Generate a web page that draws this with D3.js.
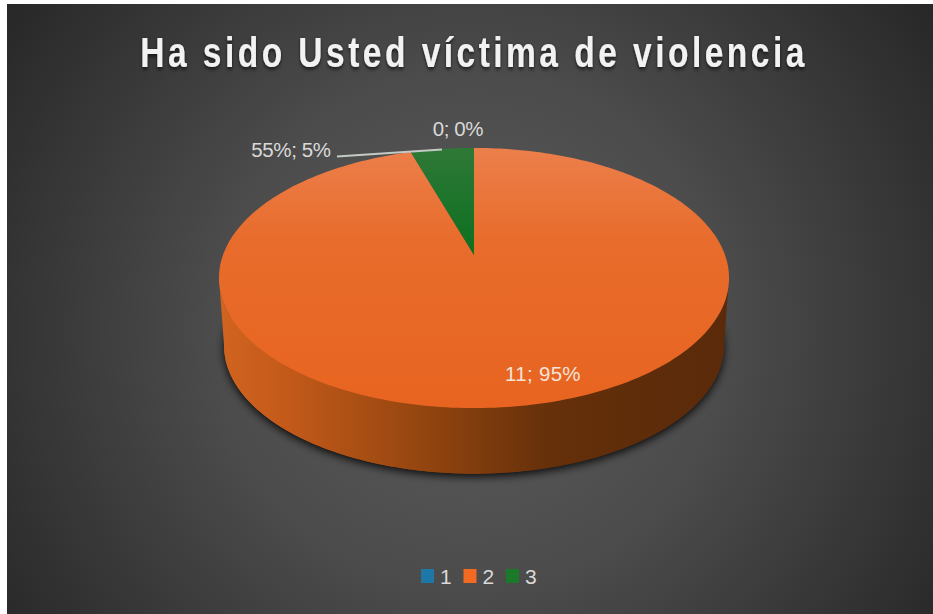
<!DOCTYPE html>
<html>
<head>
<meta charset="utf-8">
<script src="https://cdnjs.cloudflare.com/ajax/libs/d3/7.8.5/d3.min.js"></script>
<style>
  html, body { margin: 0; padding: 0; background: #fff; }
  svg { display: block; }
</style>
</head>
<body>
<svg id="chart" width="933" height="614"></svg>
<script>
const titleText = 'Ha sido Usted víctima de violencia'
const categories = ['1', '2', '3']
const values = [0, 11, 0.55]
const valueLabels = ['0; 0%', '11; 95%', '55%; 5%']
const colors = ['#1f77a8', '#f26a21', '#1a7a2a']

const svg = d3.select('#chart')
const defs = svg.append('defs')

const bg = defs.append('radialGradient').attr('id', 'bg')
  .attr('gradientUnits', 'userSpaceOnUse')
  .attr('cx', 470).attr('cy', 330).attr('r', 560)
bg.append('stop').attr('offset', '0%').attr('stop-color', '#5c5c5c')
bg.append('stop').attr('offset', '45%').attr('stop-color', '#4c4c4c')
bg.append('stop').attr('offset', '100%').attr('stop-color', '#282828')

const wall = defs.append('linearGradient').attr('id', 'wall')
  .attr('gradientUnits', 'userSpaceOnUse')
  .attr('x1', 224).attr('x2', 724).attr('y1', 0).attr('y2', 0)
wall.append('stop').attr('offset', '0%').attr('stop-color', '#d0631f')
wall.append('stop').attr('offset', '12%').attr('stop-color', '#c45a1a')
wall.append('stop').attr('offset', '40%').attr('stop-color', '#93450f')
wall.append('stop').attr('offset', '65%').attr('stop-color', '#65300a')
wall.append('stop').attr('offset', '100%').attr('stop-color', '#5a2a0a')

const topFill = defs.append('linearGradient').attr('id', 'topFill')
  .attr('x1', 0).attr('x2', 0).attr('y1', 0).attr('y2', 1)
topFill.append('stop').attr('offset', '0%').attr('stop-color', '#ec7f4b')
topFill.append('stop').attr('offset', '35%').attr('stop-color', '#e86c2c')
topFill.append('stop').attr('offset', '100%').attr('stop-color', '#e86420')

const greenFill = defs.append('linearGradient').attr('id', 'greenFill')
  .attr('x1', 0).attr('x2', 0).attr('y1', 0).attr('y2', 1)
greenFill.append('stop').attr('offset', '0%').attr('stop-color', '#2f7836')
greenFill.append('stop').attr('offset', '100%').attr('stop-color', '#0b7020')

const shadow = defs.append('filter').attr('id', 'shadow')
  .attr('x', '-10%').attr('y', '-10%').attr('width', '120%').attr('height', '125%')
shadow.append('feGaussianBlur').attr('stdDeviation', 4)

const titleShadow = defs.append('filter').attr('id', 'titleShadow')
  .attr('x', '-5%').attr('y', '-20%').attr('width', '110%').attr('height', '150%')
titleShadow.append('feDropShadow').attr('dx', 0).attr('dy', 2).attr('stdDeviation', 2)
  .attr('flood-color', '#000').attr('flood-opacity', 0.7)

svg.append('rect').attr('x', 7).attr('y', 4).attr('width', 926).attr('height', 610).attr('fill', 'url(#bg)')

// title, no narrow font here so squeeze it sideways
svg.append('text')
  .attr('transform', 'translate(474,67) scale(0.8,1)')
  .attr('text-anchor', 'middle')
  .attr('font-family', '"Liberation Sans", sans-serif')
  .attr('font-weight', 'bold')
  .attr('font-size', 42)
  .attr('letter-spacing', 4.3)
  .attr('fill', '#f2f2f2')
  .attr('filter', 'url(#titleShadow)')
  .text(titleText)

// tilted disc: a circle seen in perspective, so the centre sits above the ellipse middle
const persp = 0.177
function project (angle, cx, cy, rx, ry) {
  const u = Math.sin(angle)
  const v = Math.cos(angle)
  const w = 1 + persp * v
  return [cx + rx * u / w, cy - ry * v / w]
}
const topDisc = {cx: 474, cy: 255, rx: 251, ry: 126}
const baseDisc = {cx: 474, cy: 323, rx: 246, ry: 124}
const onDisc = (a, d) => project(a, d.cx, d.cy, d.rx, d.ry)

const line = d3.line()
function arcPoints (a0, a1, d) {
  const n = Math.max(2, Math.ceil(Math.abs(a1 - a0) / 0.02))
  return d3.range(n + 1).map(i => onDisc(a0 + (a1 - a0) * i / n, d))
}

// widest points of the projected disc, the wall runs between them
const sideAngle = Math.acos(-persp)
const frontWall = arcPoints(sideAngle, 2 * Math.PI - sideAngle, topDisc)
  .concat(arcPoints(2 * Math.PI - sideAngle, sideAngle, baseDisc))

const pie = d3.pie().value(d => d).sort(null)
const slices = pie(values)

svg.append('path')
  .attr('d', line(arcPoints(0, 2 * Math.PI, baseDisc)) + 'Z')
  .attr('fill', '#000').attr('opacity', 0.85)
  .attr('filter', 'url(#shadow)')
  .attr('transform', 'translate(0,3)')

svg.append('path')
  .attr('d', line(arcPoints(0, 2 * Math.PI, baseDisc)) + 'Z')
  .attr('fill', 'url(#wall)')
svg.append('path')
  .attr('d', line(frontWall) + 'Z')
  .attr('fill', 'url(#wall)')

svg.selectAll('path.slice')
  .data(slices.filter(d => d.value > 0))
  .enter()
  .append('path')
  .attr('class', 'slice')
  .attr('d', d => {
    const pts = arcPoints(d.startAngle, d.endAngle, topDisc)
    pts.push([topDisc.cx, topDisc.cy])
    return line(pts) + 'Z'
  })
  .attr('fill', d => d.index === 2 ? 'url(#greenFill)' : 'url(#topFill)')

// labels
const labelFont = '"Liberation Sans", Arial, sans-serif'
const labelPos = [
  {x: 458, y: 136, spacing: -0.4, fill: '#d9d9d9'},
  {x: 543, y: 381, spacing: 0.3, fill: '#f4e3d8'},
  {x: 291, y: 157, spacing: -0.4, fill: '#d9d9d9'}
]
svg.selectAll('text.value')
  .data(valueLabels)
  .enter()
  .append('text')
  .attr('class', 'value')
  .attr('x', (d, i) => labelPos[i].x)
  .attr('y', (d, i) => labelPos[i].y)
  .attr('text-anchor', 'middle')
  .attr('font-family', labelFont)
  .attr('font-size', 20.5)
  .attr('letter-spacing', (d, i) => labelPos[i].spacing)
  .attr('fill', (d, i) => labelPos[i].fill)
  .text(d => d)

svg.append('line')
  .attr('x1', 337).attr('y1', 156.5).attr('x2', 442).attr('y2', 149.5)
  .attr('stroke', '#c4cac4').attr('stroke-width', 2)

// legend
const legendX = d3.scalePoint().domain(categories).range([421, 506])
const legend = svg.selectAll('g.legend')
  .data(categories)
  .enter()
  .append('g')
  .attr('class', 'legend')
  .attr('transform', d => 'translate(' + legendX(d) + ',569)')
legend.append('rect')
  .attr('width', 13).attr('height', 14)
  .attr('fill', (d, i) => colors[i])
legend.append('text')
  .attr('x', 19).attr('y', 14.5)
  .attr('font-family', labelFont)
  .attr('font-size', 21)
  .attr('fill', '#d9d9d9')
  .text(d => d)
</script>
</body>
</html>
